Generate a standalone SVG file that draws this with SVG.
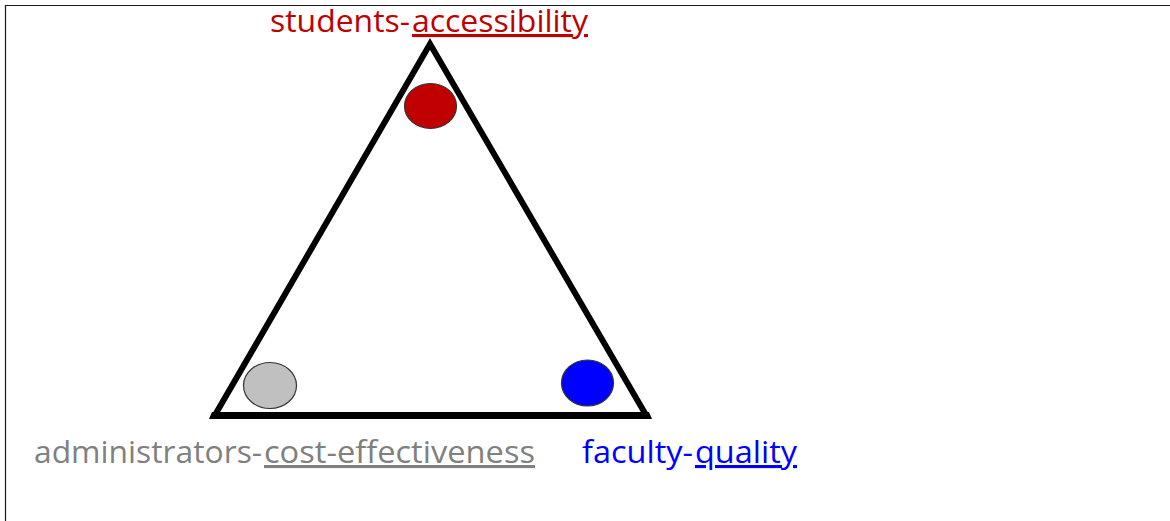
<svg xmlns="http://www.w3.org/2000/svg" width="1170" height="521" viewBox="0 0 1170 521">
  <style>
    .lbl { font-family: "Open Sans", "Liberation Sans", sans-serif; font-size: 31px; }
    .ul { text-decoration: underline; }
    .dot { stroke: #333333; stroke-width: 1.2; }
  </style>
  <rect x="0" y="0" width="1170" height="521" fill="#ffffff"/>
  <g id="frame">
    <line x1="5" y1="5.5" x2="1170" y2="5.5" stroke="#1a1a1a" stroke-width="1.2"/>
    <line x1="5.5" y1="5" x2="5.5" y2="521" stroke="#1a1a1a" stroke-width="1.2"/>
  </g>
  <g id="connectors">
    <polygon points="430,44 215,415 646,415" fill="none" stroke="#000000" stroke-width="6" stroke-linejoin="miter"/>
    <polygon points="212,412 649,412 652,419 209,419" fill="#000000"/>
  </g>
  <g id="node-students">
    <ellipse class="dot" cx="430.5" cy="106" rx="26" ry="22.5" fill="#C00000"/>
    <text class="lbl" x="270" y="32" fill="#C00000" textLength="140" lengthAdjust="spacingAndGlyphs">students-</text>
    <text class="lbl ul" x="412" y="32" fill="#C00000" textLength="176" lengthAdjust="spacingAndGlyphs">accessibility</text>
  </g>
  <g id="node-administrators">
    <ellipse class="dot" cx="270" cy="385.5" rx="26.5" ry="23" fill="#C0C0C0"/>
    <text class="lbl" x="34" y="463" fill="#808080" textLength="228" lengthAdjust="spacingAndGlyphs">administrators-</text>
    <text class="lbl ul" x="264" y="463" fill="#808080" textLength="271" lengthAdjust="spacingAndGlyphs">cost-effectiveness</text>
  </g>
  <g id="node-faculty">
    <ellipse class="dot" cx="587.5" cy="383" rx="26" ry="23" fill="#0000FF"/>
    <text class="lbl" x="582" y="463" fill="#0000FF" textLength="111" lengthAdjust="spacingAndGlyphs">faculty-</text>
    <text class="lbl ul" x="695" y="463" fill="#0000FF" textLength="102" lengthAdjust="spacingAndGlyphs">quality</text>
  </g>
</svg>
